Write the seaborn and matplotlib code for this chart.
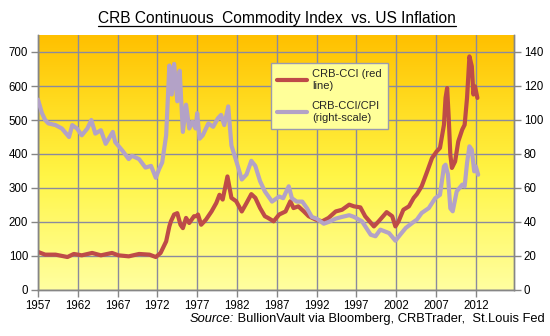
import numpy as np
import pandas as pd
import matplotlib
matplotlib.use("Agg")
import matplotlib.pyplot as plt
import seaborn as sns
from matplotlib.colors import LinearSegmentedColormap
from matplotlib.lines import Line2D

# ---- data ----
crb_years = [1957.0, 1957.9, 1959.2, 1960.7, 1961.5, 1962.5, 1963.8, 1964.9, 1966.3, 1967.1,
             1968.4, 1969.7, 1971.0, 1971.8, 1972.4, 1973.1, 1973.5, 1973.7, 1974.1, 1974.5,
             1974.9, 1975.2, 1975.6, 1976.0, 1976.6, 1976.9, 1977.1, 1977.5, 1978.1, 1978.8,
             1979.4, 1979.8, 1980.2, 1980.8, 1981.3, 1981.9, 1982.6, 1983.2, 1983.8, 1984.3,
             1984.9, 1985.5, 1985.9, 1986.6, 1987.3, 1988.1, 1988.7, 1989.1, 1989.7, 1990.4,
             1991.0, 1991.9, 1992.7, 1993.5, 1994.4, 1995.2, 1996.1, 1996.7, 1997.5, 1998.1,
             1999.2, 1999.8, 2000.8, 2001.5, 2001.9, 2002.3, 2002.9, 2003.6, 2004.2, 2004.6,
             2005.2, 2005.9, 2006.5, 2007.1, 2007.5, 2008.0, 2008.2, 2008.4, 2008.6, 2008.8,
             2009.0, 2009.4, 2009.8, 2010.3, 2010.6, 2010.9, 2011.2, 2011.5, 2011.7, 2011.9,
             2012.2]
crb_values = [112, 104, 104, 97, 106, 102, 109, 102, 109, 102,
              99, 106, 104, 97, 109, 143, 187, 202, 222, 226,
              192, 182, 212, 197, 217, 217, 222, 192, 207, 231,
              256, 280, 266, 334, 271, 261, 231, 256, 282, 271,
              241, 217, 212, 202, 222, 231, 261, 241, 246, 231,
              217, 207, 202, 212, 231, 236, 251, 246, 243, 217,
              187, 202, 229, 217, 187, 202, 236, 246, 271, 282,
              305, 349, 388, 408, 418, 486, 565, 594, 506, 398,
              359, 378, 437, 472, 486, 565, 687, 658, 575, 599,
              565]

ratio_years = [1957.0, 1957.5, 1957.9, 1958.3, 1959.2, 1960.0, 1960.9, 1961.3, 1961.9, 1962.5,
               1963.2, 1963.7, 1964.2, 1964.9, 1965.5, 1966.4, 1966.7, 1967.6, 1968.4, 1968.8,
               1969.7, 1970.5, 1971.2, 1971.8, 1972.2, 1972.6, 1973.1, 1973.5, 1973.8, 1974.1,
               1974.5, 1974.8, 1975.2, 1975.6, 1976.0, 1976.4, 1976.8, 1977.0, 1977.3, 1977.7,
               1978.4, 1979.0, 1979.6, 1980.0, 1980.4, 1980.9, 1981.3, 1981.9, 1982.6, 1983.2,
               1983.8, 1984.3, 1984.9, 1985.5, 1986.4, 1987.3, 1987.8, 1988.5, 1988.9, 1989.5,
               1990.2, 1990.8, 1991.4, 1992.0, 1992.9, 1993.5, 1994.4, 1995.2, 1996.1, 1996.7,
               1997.7, 1998.8, 1999.4, 2000.0, 2001.1, 2001.9, 2002.5, 2003.2, 2004.0, 2004.6,
               2005.2, 2006.1, 2006.9, 2007.5, 2008.0, 2008.2, 2008.5, 2008.8, 2009.1, 2009.6,
               2010.3, 2010.6, 2010.9, 2011.2, 2011.5, 2011.8, 2012.0, 2012.3]
ratio_values = [112, 104, 100, 98, 97, 95, 90, 97, 95, 91,
                95, 100, 92, 94, 86, 93, 87, 82, 77, 79,
                77, 72, 73, 66, 71, 75, 91, 132, 115, 133,
                111, 129, 93, 109, 95, 99, 95, 104, 89, 91,
                98, 96, 101, 103, 97, 108, 85, 76, 65, 68,
                76, 73, 64, 58, 52, 55, 54, 61, 54, 52,
                52, 48, 43, 42, 39, 40, 42, 43, 44, 43,
                40.4, 32.5, 31.6, 35.5, 33.5, 29, 32.5, 36.5, 39.4, 41.4,
                45.3, 48.2, 54, 56, 72.7, 73.7, 68, 48, 46.3, 58,
                62, 61, 74.7, 84.5, 82.5, 69.8, 72.7, 67.8]

x_ticks = [1957, 1962, 1967, 1972, 1977, 1982, 1987, 1992, 1997, 2002, 2007, 2012]
left_ticks = [0, 100, 200, 300, 400, 500, 600, 700]
right_ticks = [0, 20, 40, 60, 80, 100, 120, 140]

title_text = "CRB Continuous  Commodity Index  vs. US Inflation"
legend_labels = ["CRB-CCI (red\nline)", "CRB-CCI/CPI\n(right-scale)"]
source_italic = "Source:"
source_rest = " BullionVault via Bloomberg, CRBTrader,  St.Louis Fed"

crb_df = pd.DataFrame({"year": crb_years, "value": crb_values})
ratio_df = pd.DataFrame({"year": ratio_years, "value": ratio_values})

# ---- style ----
sns.set_theme(style="ticks")
plt.rcParams["font.family"] = ["Liberation Sans", "DejaVu Sans"]

RED = "#BE4B48"
LAV = "#B3A2C7"
GRID = "#8A8A9E"
AXC = "#868686"

W, H = 550, 336
fig = plt.figure(figsize=(W / 100, H / 100), dpi=100)
fig.patch.set_facecolor("white")
L, R, T, B = 38, 514, 35, 290
ax = fig.add_axes([L / W, (H - B) / H, (R - L) / W, (B - T) / H])

# gradient background
cmap = LinearSegmentedColormap.from_list(
    "bg", [(0.0, "#FFFFA0"), (0.45, "#FFF546"), (0.75, "#FFDA1E"), (1.0, "#FFC000")])
grad = np.linspace(0, 1, 256).reshape(-1, 1)
ax.imshow(grad, aspect="auto", cmap=cmap, origin="lower", extent=[0, 1, 0, 1],
          transform=ax.transAxes, zorder=0, interpolation="bilinear")

ax2 = ax.twinx()

sns.lineplot(data=crb_df, x="year", y="value", ax=ax, color=RED, lw=3,
             estimator=None, sort=False, zorder=3)
sns.lineplot(data=ratio_df, x="year", y="value", ax=ax2, color=LAV, lw=3,
             estimator=None, sort=False, zorder=3)

ax.set_xlim(1957, 2016.8)
ax.set_ylim(0, 750)
ax2.set_ylim(0, 150)
ax.set_xticks(x_ticks)
ax.set_yticks(left_ticks)
ax2.set_yticks(right_ticks)
ax.set_xlabel("")
ax.set_ylabel("")
ax2.set_xlabel("")
ax2.set_ylabel("")

ax.set_axisbelow(True)
ax.grid(True, color=GRID, lw=1.0, zorder=1)
ax2.grid(False)

for a in (ax, ax2):
    a.tick_params(axis="both", direction="out", length=5, width=1, color=AXC,
                  labelsize=8.3, labelcolor="black", pad=2)
    for s in a.spines.values():
        s.set_color(AXC)
        s.set_linewidth(1)
    a.spines["top"].set_visible(False)

handles = [Line2D([], [], color=RED, lw=3), Line2D([], [], color=LAV, lw=3)]
leg = ax2.legend(handles, legend_labels, loc="upper left",
                 bbox_to_anchor=((270.7 - L) / (R - L), (B - 62.7) / (B - T)),
                 frameon=True, fancybox=False, framealpha=1, facecolor="#FFFF99",
                 edgecolor="#9A9AB0", fontsize=8, handlelength=2.7, handletextpad=0.4,
                 labelspacing=0.9, borderpad=0.6, borderaxespad=0)
leg.get_frame().set_linewidth(1)
leg.set_zorder(10)

# title with underline
t = fig.text(277 / W, 1 - 18 / H, title_text, ha="center", va="center",
             fontsize=11.2, color="black")
fig.canvas.draw()
r = fig.canvas.get_renderer()
bb = t.get_window_extent(r)
uy = (H - 25.5) / H
fig.add_artist(Line2D([bb.x0 / W, bb.x1 / W], [uy, uy], color="black", lw=0.9,
                      transform=fig.transFigure))

# source line
s2 = fig.text(545 / W, 1 - 319 / H, source_rest, ha="right", va="center",
              fontsize=9.3, color="black")
fig.canvas.draw()
bb2 = s2.get_window_extent(r)
fig.text(bb2.x0 / W, 1 - 319 / H, source_italic, ha="right", va="center",
         fontsize=9.3, style="italic", color="black")

fig.savefig("out.png", dpi=100)
